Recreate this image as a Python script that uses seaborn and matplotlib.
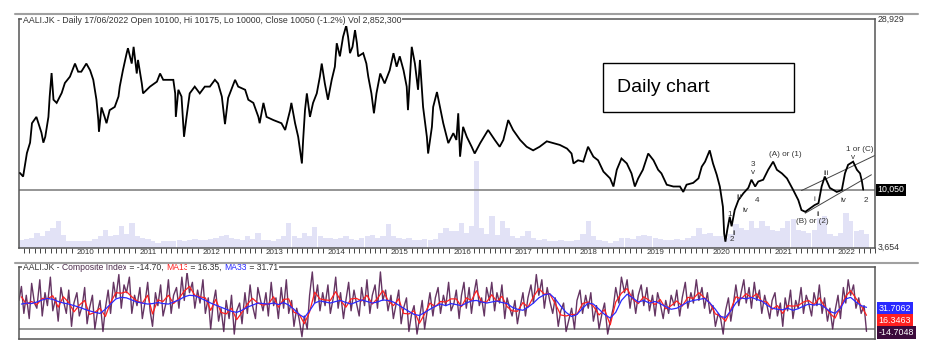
import numpy as np
import pandas as pd
import matplotlib
matplotlib.use("Agg")
import matplotlib.pyplot as plt
from matplotlib.lines import Line2D
from matplotlib.patches import Rectangle
import seaborn as sns

# ---------------- data ----------------
ticker = "AALI.JK"
last_date = "17/06/2022"
last_open, last_high, last_low, last_close = 10100, 10175, 10000, 10050
last_change = "-1.2%"
last_volume = "2,852,300"
price_axis = (3654, 28929)

# daily close, sampled at turning points (x = year on a trading-session axis)
price_year = [
    2009.10, 2009.15, 2009.21, 2009.26, 2009.29, 2009.36, 2009.44, 2009.47, 2009.50, 2009.55,
    2009.57, 2009.60, 2009.63, 2009.68, 2009.76, 2009.81, 2009.89, 2009.97,
    2010.02, 2010.07, 2010.15, 2010.21, 2010.26, 2010.31, 2010.34, 2010.35, 2010.39, 2010.44,
    2010.47, 2010.52, 2010.60, 2010.66, 2010.68, 2010.73, 2010.79, 2010.81, 2010.87, 2010.90,
    2010.95, 2010.97,
    2011.03, 2011.05, 2011.11, 2011.16, 2011.27, 2011.32, 2011.37, 2011.45, 2011.53, 2011.56,
    2011.57, 2011.61, 2011.66, 2011.70, 2011.74, 2011.79, 2011.87, 2011.95,
    2012.03, 2012.11, 2012.19, 2012.24, 2012.30, 2012.35, 2012.40, 2012.51, 2012.56, 2012.67,
    2012.72, 2012.80, 2012.88, 2012.90, 2012.96,
    2013.01, 2013.12, 2013.25, 2013.31, 2013.39, 2013.41, 2013.47, 2013.52, 2013.58, 2013.60,
    2013.63, 2013.66, 2013.71, 2013.76, 2013.82, 2013.87, 2013.90, 2013.95,
    2014.00, 2014.06, 2014.11, 2014.14, 2014.19, 2014.24, 2014.29, 2014.32, 2014.35, 2014.39,
    2014.43, 2014.46, 2014.48, 2014.56, 2014.61, 2014.64, 2014.69, 2014.73, 2014.77, 2014.83,
    2014.90, 2014.98,
    2015.04, 2015.09, 2015.14, 2015.20, 2015.25, 2015.27, 2015.33, 2015.38, 2015.43, 2015.46,
    2015.51, 2015.57, 2015.59, 2015.65, 2015.67, 2015.73, 2015.83, 2015.91, 2015.99,
    2016.04, 2016.07, 2016.10, 2016.15, 2016.21, 2016.29, 2016.34, 2016.43, 2016.56, 2016.67,
    2016.75, 2016.81, 2016.89, 2016.97,
    2017.08, 2017.18, 2017.28, 2017.38, 2017.49, 2017.59, 2017.69, 2017.80, 2017.87, 2017.90,
    2017.97,
    2018.05, 2018.12, 2018.20, 2018.27, 2018.35, 2018.45, 2018.50, 2018.55, 2018.62, 2018.70,
    2018.77, 2018.82, 2018.87, 2018.94,
    2019.02, 2019.10, 2019.17, 2019.22, 2019.30, 2019.40, 2019.50, 2019.55, 2019.60, 2019.70,
    2019.78, 2019.83, 2019.88, 2019.95,
    2020.00, 2020.06, 2020.11, 2020.16, 2020.18, 2020.20, 2020.23, 2020.27, 2020.30, 2020.35,
    2020.41, 2020.49, 2020.57, 2020.62, 2020.68, 2020.73, 2020.81, 2020.89, 2020.97,
    2021.03, 2021.11, 2021.19, 2021.29, 2021.37, 2021.42, 2021.48, 2021.56, 2021.63, 2021.69,
    2021.74, 2021.79, 2021.87, 2021.98,
    2022.06, 2022.11, 2022.16, 2022.24, 2022.30, 2022.35, 2022.38, 2022.40,
]
price_close = [
    11900, 11500, 14100, 15250, 17400, 18100, 16350, 15250, 15900, 18100,
    20350, 22950, 20000, 19650, 20750, 21850, 22550, 24000,
    23100, 23100, 24000, 23250, 22200, 20000, 17750, 16450, 19150, 18100,
    17400, 18850, 19200, 20350, 21450, 23250, 25150, 25700, 24000, 25850,
    22900, 24400,
    21800, 20700, 21100, 21450, 22000, 22900, 22200, 22200, 22200, 20700,
    18100, 21100, 20350, 15900, 18100, 20700, 21450, 20700,
    21450, 21450, 22200, 21800, 20350, 17300, 20200, 22200, 21450, 21100,
    20000, 19650, 18100, 17400, 19650,
    18100, 17750, 17400, 16650, 18850, 19650, 17400, 15900, 12950, 15550,
    18850, 20700, 18100, 19650, 20700, 22550, 24000, 21800,
    20000, 22200, 23650, 26250, 24800, 26950, 28200, 26950, 25150, 25850,
    27700, 26250, 24800, 25150, 24000, 22550, 20700, 18500, 20700, 22900,
    21800, 23250,
    25150, 23650, 24800, 23250, 21450, 18850, 25850, 24000, 21100, 24400,
    19200, 15900, 14050, 17000, 19200, 20850, 17400, 15200, 16300,
    15550, 18500, 13700, 17000, 15900, 14800, 14050, 15200, 16650, 15550,
    14800, 15550, 17750, 16650,
    15550, 14800, 14400, 14800, 15400, 15200, 15000, 14600, 14050, 12950,
    13300,
    13150, 14800, 13700, 13300, 12050, 11300, 10400, 12250, 13500, 12950,
    11850, 10400, 11300, 12250,
    14050, 13300, 12250, 11850, 10600, 10400, 10400, 9800, 10600, 10800,
    11300, 12600, 13150, 14400,
    12950, 11700, 10400, 8150, 5200, 4300, 5600, 7050, 6000, 7800,
    8900, 9650, 10250, 11150, 10400, 10950, 11150, 12250, 13150,
    12250, 11850, 11300, 10000, 8900, 7800, 7600, 8000, 8350, 8550,
    10400, 11500, 10250, 9800,
    10000, 11850, 12800, 13150, 12250, 11850, 10950, 10050,
]

# trading sessions per calendar year 2009..2022 (the x axis counts sessions)
session_years = list(range(2009, 2024))
sessions_per_year = [245, 244, 244, 244, 240, 244, 244, 236, 252, 259, 256, 240, 244, 244]

# volume, millions of shares, monthly from Feb 2009
vol_millions = [
    2.1, 2.3, 2.6, 3.9, 3.1, 4.4, 5.2, 7.0, 3.4, 1.8, 1.6,
    1.6, 1.6, 1.8, 2.3, 3.1, 4.7, 2.9, 3.4, 5.7, 3.6, 6.5, 2.9,
    2.6, 2.3, 1.6, 1.3, 1.6, 1.8, 1.6, 2.1, 1.8, 2.1, 2.3, 2.1,
    2.1, 2.3, 2.6, 2.9, 3.4, 2.6, 2.3, 2.1, 3.1, 2.3, 3.9, 2.1,
    2.1, 1.8, 2.3, 3.1, 6.5, 3.1, 2.6, 3.9, 2.9, 5.5, 3.1, 2.6,
    2.6, 2.3, 2.6, 2.9, 2.3, 2.1, 2.6, 2.9, 3.4, 2.6, 3.1, 6.2,
    3.1, 2.6, 2.3, 2.6, 2.1, 2.1, 2.3, 2.1, 2.3, 3.9, 5.2, 4.4,
    4.4, 6.5, 3.9, 5.7, 22.6, 5.2, 3.6, 8.3, 3.4, 7.0, 5.2, 3.1,
    2.6, 3.1, 4.4, 2.6, 2.1, 2.3, 1.8, 1.8, 2.1, 1.6, 1.8, 2.1,
    3.6, 7.0, 3.1, 2.1, 1.6, 1.3, 1.6, 2.6, 2.6, 2.3, 2.9, 3.4,
    3.1, 2.6, 2.3, 2.1, 2.1, 2.3, 2.1, 2.6, 3.1, 5.2, 3.6, 3.9,
    2.9, 3.1, 2.6, 3.6, 6.2, 5.2, 4.7, 7.0, 5.2, 7.0, 5.7, 4.7,
    4.4, 5.2, 7.0, 7.5, 4.7, 4.4, 3.9, 4.7, 7.8, 8.3, 3.6, 3.1,
    3.9, 9.1, 7.0, 4.4, 4.7, 3.6,
]

# composite index, twice a month from Feb 2009
composite = [
    45, 72, 20, 55, 10, 78, 40, 30, 85, 15, 60, 35, 90, 25, 50, 5, 70, 45, 20, 65, -5, 40,
    60, 15, 35, 70, 0, 30, 55, -10, 25, 45, -15, 30, 65, 20, 80, 50, 95, 30, 75, 60, 90, 20, 55, 35,
    70, 10, 45, 80, 25, -5, 60, 35, 75, 15, 40, 85, 20, 55, 70, 30, 90, 45, 100, 60, 80, 30, 65, 40,
    85, 20, 50, -10, 40, 65, 5, 30, -15, 45, 10, 55, -20, 25, 40, 0, 60, 20, 75, 35, 10, 70, 45, 25,
    60, 15, 80, 35, 50, 10, 70, 30, 85, 20, 45, -5, 30, 10, -25, 15, -10, 55, 100, 40, 75, 25, 60, 35,
    75, 20, 50, 90, 30, 60, 10, 45, 80, 25, 65, 40, 15, 70, 35, 85, 20, 55, 75, 30, 100, 45, 65, 25,
    55, 10, 40, 65, 0, 30, 50, -15, 20, 35, -20, 10, 45, -10, 30, 60, 15, 50, 70, 20, 55, 35, 80, 25,
    40, 65, 10, 55, 80, 30, 70, 20, 60, 85, 35, 50, 15, 70, 45, 80, 25, 60, 40, 75, 10, 50, 30, 15,
    45, 0, 35, 60, 15, 50, 75, 40, 95, 55, 85, 30, 70, 45, 20, 50, -5, 25, 40, -15, 10, 30, -10, 45,
    65, 20, 55, 30, 60, 5, 35, -10, 20, 40, -20, 5, 30, 70, 40, 90, 60, 85, 30, 65, 20, 55, 75, 35,
    70, 25, 55, 15, 60, 40, 10, 45, 20, 55, 35, 65, 15, 50, 80, 30, 60, 40, 85, 45, 70, 30, 60, 20,
    35, -5, 20, 10, -20, 25, 50, 5, 40, 75, 35, 60, 85, 40, 70, 30, 80, 45, 65, 20, 55, 35, 10, 45,
    60, 15, 40, -5, 50, 25, 65, 10, 45, 30, 70, 20, 55, 40, 15, 60, 35, 75, 20, 50, 5, 30, -10, 25,
    55, 10, 70, 40, 85, 55, 75, 30, 50, 20, 35, -14.7048,
]

# monthly moving averages from Feb 2009
ma13 = [
    52, 38, 43, 37, 49, 48, 54, 32, 52, 41, 23,
    36, 45, 18, 22, 30, 14, 41, 60, 59, 62, 52, 44,
    40, 55, 19, 46, 43, 55, 39, 49, 63, 72, 55, 52,
    50, 26, 47, 22, 19, 30, 8, 22, 38, 49, 40, 36,
    38, 52, 32, 47, 48, 22, 19, 0, 23, 61, 48, 46,
    45, 62, 45, 32, 48, 49, 44, 55, 38, 49, 64, 45,
    35, 48, 20, 19, 25, 1, 19, 40, 33, 43, 42, 48,
    48, 33, 50, 45, 64, 42, 42, 56, 43, 53, 33, 25,
    24, 41, 32, 52, 68, 57, 58, 39, 17, 15, 18, 18,
    39, 42, 34, 17, 27, -2, 42, 59, 68, 48, 39, 52,
    45, 37, 47, 29, 35, 44, 34, 51, 49, 60, 50, 40,
    19, 15, 5, 27, 52, 48, 58, 50, 58, 43, 42, 28,
    35, 20, 35, 34, 35, 42, 45, 37, 50, 34, 20, 11,
    32, 53, 64, 49, 35, 16.3463,
]
ma33 = [
    38, 40, 39, 42, 46, 49, 47, 43, 40, 38, 35,
    32, 28, 25, 22, 20, 28, 38, 48, 51, 50, 46, 42,
    40, 38, 39, 41, 39, 38, 42, 46, 52, 55, 54, 50,
    45, 40, 36, 32, 28, 24, 22, 26, 32, 36, 40, 39,
    38, 40, 37, 41, 36, 28, 18, 12, 25, 40, 44, 42,
    40, 43, 45, 41, 38, 42, 46, 43, 40, 42, 46, 45,
    42, 36, 30, 24, 18, 16, 22, 28, 34, 38, 35, 39,
    37, 35, 40, 44, 45, 42, 40, 42, 44, 41, 39, 32,
    28, 26, 32, 40, 50, 56, 58, 48, 34, 22, 14, 18,
    30, 40, 38, 28, 18, 11, 22, 45, 57, 50, 42, 45,
    40, 43, 39, 33, 28, 30, 36, 42, 45, 47, 49, 40,
    28, 14, 12, 25, 40, 50, 48, 51, 47, 44, 36, 30,
    28, 27, 30, 26, 29, 34, 38, 36, 38, 32, 24, 20,
    30, 48, 51, 42, 35, 31.7062,
]
ci_axis = (-30, 109)
ci_floor = -10

# Elliott wave labels (text, year, price)
wave_labels = [
    ("(A) or (1)", 2021.17, 13900), ("3", 2020.65, 12800), ("v", 2020.65, 12000),
    ("iii", 2020.42, 9150), ("iv", 2020.52, 7800), ("4", 2020.71, 8900),
    ("1", 2020.27, 7250), ("ii", 2020.35, 5250), ("2", 2020.30, 4550),
    ("(B) or (2)", 2021.60, 6500), ("ii", 2021.69, 7250), ("i", 2021.62, 9000),
    ("iii", 2021.81, 11800), ("iv", 2022.08, 8800), ("1 or (C)", 2022.35, 14450),
    ("v", 2022.24, 13650), ("2", 2022.44, 8900),
]
channel_upper = ([2021.42, 2022.59], [9950, 13850])
channel_lower = ([2021.48, 2022.53], [7450, 11700])


# ---------------- helpers ----------------
cum_sessions = np.concatenate([[0], np.cumsum(sessions_per_year)])


def to_session(x):
    return np.interp(x, session_years, cum_sessions)


def to_year(s):
    return np.interp(s, cum_sessions, session_years)


def decimal_year(dates):
    days = np.where(dates.is_leap_year, 366.0, 365.0)
    return np.asarray(dates.year + (dates.dayofyear - 1) / days)


ci_x = decimal_year(pd.date_range("2009-02-01", "2022-06-15", freq="SMS"))
month_starts = pd.date_range("2009-02-01", periods=len(vol_millions), freq="MS")
vol_x = decimal_year(month_starts)
ma_x = decimal_year(month_starts + pd.Timedelta(days=14))

sns.set_style("white")
plt.rcParams["font.family"] = ["Liberation Sans", "DejaVu Sans"]

W, H = 943, 354
fig = plt.figure(figsize=(W / 100, H / 100), dpi=100)


def px_rect(x0, y0, x1, y1):
    return [x0 / W, 1 - y1 / H, (x1 - x0) / W, (y1 - y0) / H]


ax_vol = fig.add_axes(px_rect(19, 19, 875, 247.5))
ax = fig.add_axes(px_rect(19, 19, 875, 247.5))
ax_ci = fig.add_axes(px_rect(19, 267.3, 875, 339.3))

# volume behind the price
ax_vol.bar(vol_x, vol_millions, width=1 / 12, align="edge", color="#e2e2f6", linewidth=0)

# price
ax.axhline(last_close, color="#8c8c8c", lw=1.3, zorder=1)
sns.lineplot(x=price_year, y=price_close, ax=ax, color="black", linewidth=1.3,
             estimator=None, sort=False, zorder=3, solid_joinstyle="miter")
ax.plot(*channel_upper, color="#444444", lw=0.7, zorder=2)
ax.plot(*channel_lower, color="#444444", lw=0.7, zorder=2)
for s, x, y in wave_labels:
    ax.text(x, y, s, fontsize=5.9, color="#333333", ha="center", va="center", zorder=4)

# composite index panel
ax_ci.axhline(ci_floor, color="#8c8c8c", lw=1.3, zorder=1)
sns.lineplot(x=ci_x, y=composite, ax=ax_ci, color="#4a1248", linewidth=1.0, alpha=0.85,
             estimator=None, sort=False)
sns.lineplot(x=ma_x, y=ma13, ax=ax_ci, color="#ff2020", linewidth=0.9,
             estimator=None, sort=False)
sns.lineplot(x=ma_x, y=ma33, ax=ax_ci, color="#2a2aff", linewidth=0.9,
             estimator=None, sort=False)

x_left, x_right = 2009.085, 2022.587
for a in (ax_vol, ax, ax_ci):
    a.set_xscale("function", functions=(to_session, to_year))
    a.set_xlim(x_left, x_right)
    a.set_xlabel("")
    a.set_ylabel("")

ax_vol.set_ylim(0, 60)
ax_vol.axis("off")
ax.set_ylim(*price_axis)
ax.patch.set_alpha(0)
ax_ci.set_ylim(*ci_axis)

for a in (ax, ax_ci):
    for sp in a.spines.values():
        sp.set_color("#555555")
        sp.set_linewidth(1.1)
    a.set_yticks([])

# month ticks, cleared where the year label sits
month_ticks = [y + (m - 1) / 12 for y in range(2009, 2023) for m in range(1, 13)
               if (m > 4 or y == 2009) and x_left <= y + (m - 1) / 12 <= x_right]
ax.set_xticks(month_ticks)
ax.tick_params(axis="x", bottom=True, direction="out", length=3.5, width=0.7,
               colors="#444444", labelbottom=False)
ax_ci.set_xticks([])
trans = ax.get_xaxis_transform()
for yr in range(2010, 2023):
    ax.text(yr, -0.006, str(yr), transform=trans, ha="left", va="top",
            fontsize=5.8, color="#333333")

# titles
white = dict(facecolor="white", edgecolor="none", pad=0.8)
title = (f"{ticker} - Daily {last_date} Open {last_open}, Hi {last_high}, Lo {last_low}, "
         f"Close {last_close} ({last_change}) Vol {last_volume}")
ax.text(0.0043, 0.993, title, transform=ax.transAxes, ha="left", va="center",
        fontsize=6.3, color="#333333", bbox=white)

pieces = [(f"{ticker} - ", "#333333"), ("Composite Index", "#4b2b4b"),
          (f" = {composite[-1]:.2f}, ", "#333333"), ("MA13", "#ff2020"),
          (f" = {ma13[-1]:.2f}, ", "#333333"), ("MA33", "#2a2aff"),
          (f" = {ma33[-1]:.2f}", "#333333")]
t = ax_ci.text(0.0045, 1.0, pieces[0][0], transform=ax_ci.transAxes, ha="left", va="center",
               fontsize=6.2, color=pieces[0][1], bbox=white)
for s, c in pieces[1:]:
    t = ax_ci.annotate(s, xy=(1, 0), xycoords=t, ha="left", va="bottom",
                       fontsize=6.2, color=c, bbox=white)

# right-hand value labels
ytrans = ax.get_yaxis_transform()
ax.text(1.0035, 1.0, f"{price_axis[1]:,}", transform=ax.transAxes, ha="left", va="center",
        fontsize=6.3, color="#333333")
ax.text(1.0035, 0.0, f"{price_axis[0]:,}", transform=ax.transAxes, ha="left", va="center",
        fontsize=6.3, color="#333333")
ax.text(1.003, last_close, f"{last_close:,}", transform=ytrans, ha="left", va="center",
        fontsize=6.3, color="white",
        bbox=dict(facecolor="black", edgecolor="none", pad=1.2))

for val, frac, col in [(ma33[-1], 0.43, "#2a2aff"), (ma13[-1], 0.264, "#ff2020"),
                       (composite[-1], 0.097, "#3c0a3c")]:
    ax_ci.text(1.004, frac, f"{val:.4f}", transform=ax_ci.transAxes, ha="left", va="center",
               fontsize=6.4, color="white",
               bbox=dict(facecolor=col, edgecolor="none", pad=1.2))

# window frame lines
for yy in (14, 263):
    fig.add_artist(Line2D([15 / W, 918 / W], [1 - yy / H] * 2, color="#a0a0a0", lw=1.5))

# "Daily chart" call-out box
fig.add_artist(Rectangle((603 / W, 1 - 112 / H), 191 / W, 49 / H, transform=fig.transFigure,
                         facecolor="white", edgecolor="black", linewidth=1.0, zorder=5))
fig.text(617 / W, 1 - 87 / H, "Daily chart", ha="left", va="center", fontsize=14,
         color="black", zorder=6)

fig.savefig("out.png", dpi=100)
